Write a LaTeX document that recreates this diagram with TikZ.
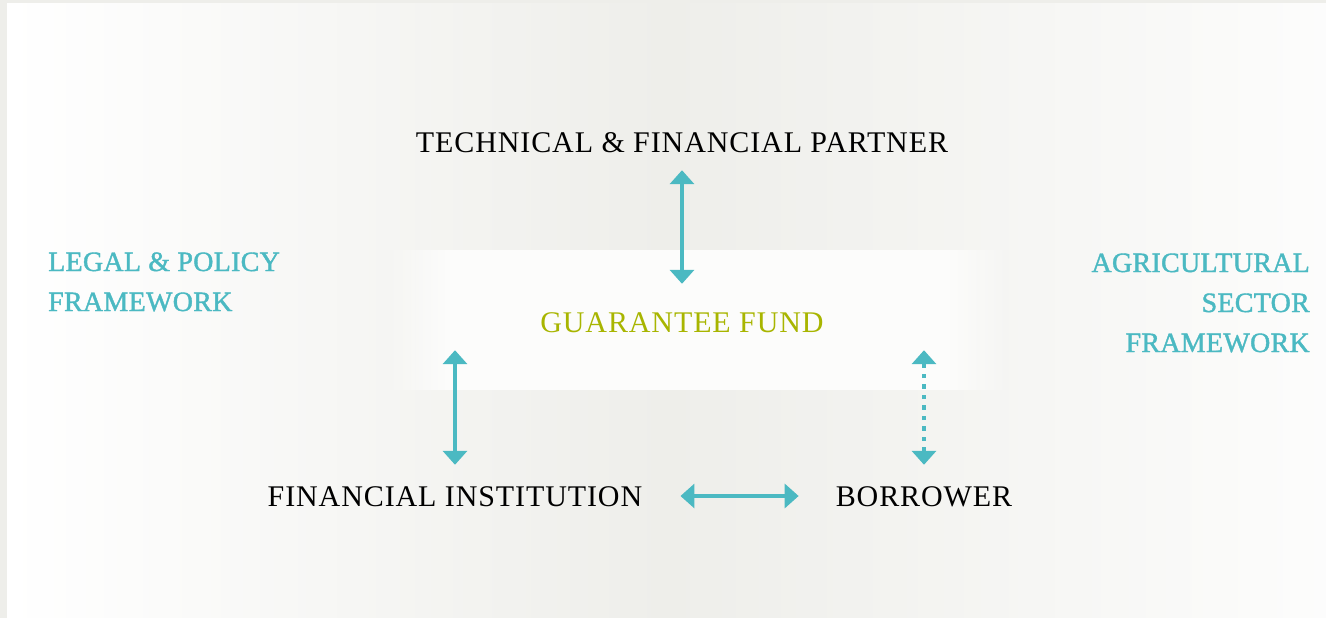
\documentclass[tikz,border=0pt]{standalone}
\usepackage{fontspec}
\setmainfont{Liberation Serif}
\newfontfamily\capsfont{Liberation Serif}[LetterSpace=3]
\newfontfamily\framefont{Liberation Serif}[LetterSpace=1,FakeBold=1.4]
\usepackage{xcolor}
\usetikzlibrary{arrows.meta,fadings}

\definecolor{arrowteal}{HTML}{4BB9C2}
\definecolor{fundgreen}{HTML}{A8B500}
\definecolor{bgouter}{HTML}{EEEEEA}
\definecolor{bgmid}{HTML}{EEEEEA}
\definecolor{bandwhite}{HTML}{FCFCFB}

\begin{document}
\begin{tikzpicture}[x=1pt,y=-1pt,
                    lbl/.style={font=\capsfont\fontsize{30}{30}\selectfont,
                    text=black,
                    inner sep=0pt,
                    text height=20pt,
                    text depth=0pt,
                    anchor=base},
                    frm/.style={font=\framefont\fontsize{28}{40}\selectfont,
                    text=arrowteal,
                    inner sep=0pt},
                    link/.style={line width=4.5pt, draw=arrowteal,
                    {Triangle[width=24pt,length=14pt]}-{Triangle[width=24pt,length=14pt]}}]
    \useasboundingbox (0,0) rectangle (1326,618);
    % backdrop and the light band behind the fund
    \fill[bgouter] (0,0) rectangle (1326,618);
    \shade[left color=white, right color=white!85!bgmid, middle color=bgmid] (7,4) rectangle (1326,618);
    \fill[bandwhite, path fading=west] (385,250) rectangle (445,390);
    \fill[bandwhite] (445,250) rectangle (950,390);
    \fill[bandwhite, path fading=east] (950,250) rectangle (1010,390);

    \node[lbl] (partner) at (682,152) {TECHNICAL \& FINANCIAL PARTNER};
    \node[lbl, text=fundgreen] (fund) at (682,332) {GUARANTEE FUND};
    \node[lbl] (inst) at (455,506) {FINANCIAL INSTITUTION};
    \node[lbl] (borr) at (924,506) {BORROWER};

    % multi-line blocks sit on the baseline of their last line
    \node[frm, anchor=base west, align=left] (legal) at (48,311) {LEGAL \& POLICY\\FRAMEWORK};
    \node[frm, anchor=base east, align=right] (agri) at (1310,352) {AGRICULTURAL\\SECTOR\\FRAMEWORK};

    \draw[link, shorten <=18pt, shorten >=28pt] (partner) -- (fund);
    \draw[link, shorten <=21pt, shorten >=18pt] (inst) -- (inst |- fund.south);
    \draw[link, dash pattern=on 4.5pt off 6pt, shorten <=21pt, shorten >=18pt] (borr) -- (borr |- fund.south);
    \draw[link, shorten <=38pt, shorten >=37pt] (inst) -- (borr);
\end{tikzpicture}
\end{document}
